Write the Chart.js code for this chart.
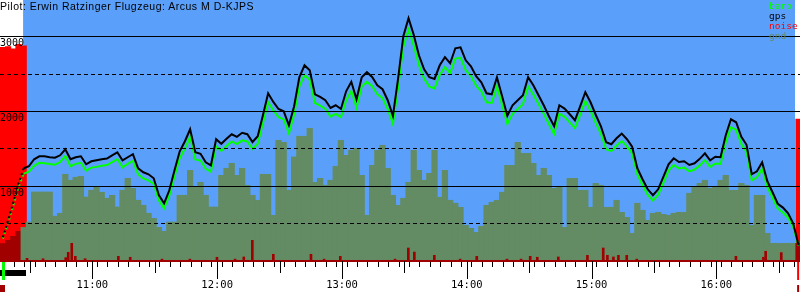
<!DOCTYPE html>
<html>
<head>
<meta charset="utf-8">
<title>Barogramm D-KJPS</title>
<script src="https://cdn.jsdelivr.net/npm/chart.js@4"></script>
<style>
    html, body { margin: 0; padding: 0; background: #fff; }
    #wrap { position: relative; width: 800px; height: 300px; }
    #title {
        position: absolute; left: 0; top: 0;
        font: 10.5px "Liberation Sans", Arial, sans-serif; line-height: 12px;
        letter-spacing: 0.5px;
        color: #000; white-space: nowrap; pointer-events: none;
    }
    #legend {
        position: absolute; left: 769px; top: 1px;
        font: 9.5px "DejaVu Sans Mono", monospace; line-height: 10px;
        pointer-events: none;
    }
</style>
</head>
<body>
<div id="wrap">
    <canvas id="baro" width="800" height="300"></canvas>
    <div id="title">Pilot: Erwin Ratzinger Flugzeug: Arcus M D-KJPS</div>
    <div id="legend">
        <div style="color:#00ff00">baro</div>
        <div style="color:#000000">gps</div>
        <div style="color:#ff0000">noise</div>
        <div style="color:#648c64">gnd</div>
    </div>
</div>
<script>
/* ======================
   DATA (minutes since midnight, metres)
   ====================== */

// one fix every 2.5 min, first fix 10:17
const FIRST_FIX = 617;
const FIX_STEP = 2.5;

const gps = [
    317, 545, 786, 1040, 1241, 1268, 1362, 1402, 1402, 1389,
    1382, 1415, 1496, 1362, 1389, 1402, 1295, 1335, 1348, 1362,
    1371, 1415, 1455, 1348, 1389, 1429, 1241, 1188, 1161, 1107,
    880, 773, 947, 1214, 1469, 1603, 1763, 1455, 1435, 1322,
    1281, 1630, 1569, 1636, 1697, 1663, 1717, 1697, 1593, 1670,
    1951, 2245, 2129, 2035, 2004, 1817, 2071, 2460, 2620, 2553,
    2232, 2196, 2152, 2049, 2085, 2035, 2272, 2399, 2165, 2460,
    2527, 2464, 2353, 2299, 2152, 1944, 2446, 3009, 3250, 3029,
    2754, 2567, 2460, 2437, 2620, 2728, 2647, 2848, 2861, 2687,
    2607, 2473, 2393, 2245, 2232, 2460, 2205, 1944, 2085, 2152,
    2219, 2460, 2353, 2219, 2085, 1938, 1804, 2085, 2041, 1964,
    1884, 2071, 2259, 2125, 1958, 1804, 1589, 1563, 1643, 1706,
    1630, 1529, 1241, 1094, 960, 880, 960, 1125, 1295, 1375,
    1326, 1335, 1285, 1308, 1367, 1442, 1348, 1395, 1389, 1683,
    1897, 1857, 1663, 1556, 1161, 1201, 1322, 1067, 920, 766,
    715, 639, 498, 210
];

const baro = [
    300, 510, 740, 985, 1170, 1195, 1275, 1315, 1310, 1300,
    1290, 1325, 1405, 1270, 1300, 1315, 1210, 1250, 1260, 1275,
    1285, 1325, 1365, 1255, 1300, 1340, 1160, 1105, 1080, 1030,
    810, 705, 875, 1130, 1375, 1505, 1660, 1360, 1345, 1235,
    1195, 1535, 1475, 1540, 1600, 1565, 1615, 1600, 1500, 1570,
    1845, 2125, 2015, 1925, 1895, 1710, 1960, 2335, 2490, 2425,
    2115, 2080, 2035, 1935, 1970, 1925, 2150, 2275, 2050, 2335,
    2400, 2340, 2230, 2180, 2035, 1835, 2320, 2865, 3095, 2885,
    2620, 2440, 2335, 2310, 2490, 2595, 2515, 2710, 2720, 2555,
    2475, 2345, 2270, 2125, 2115, 2335, 2090, 1835, 1970, 2035,
    2100, 2335, 2230, 2100, 1970, 1830, 1700, 1970, 1930, 1855,
    1780, 1960, 2140, 2010, 1850, 1700, 1495, 1470, 1545, 1605,
    1535, 1440, 1160, 1015, 885, 810, 885, 1045, 1210, 1285,
    1240, 1250, 1200, 1225, 1280, 1350, 1260, 1305, 1300, 1585,
    1790, 1755, 1565, 1460, 1080, 1120, 1235, 990, 850, 700,
    650, 580, 450, 205
];

const gnd = [
    234, 277, 330, 398, 450, 522, 924, 924, 924, 924,
    600, 639, 1161, 1081, 1121, 1134, 857, 947, 991, 920,
    840, 880, 723, 947, 1107, 973, 813, 746, 639, 572,
    451, 398, 522, 522, 880, 880, 1214, 1000, 1054, 880,
    723, 723, 1147, 1241, 1308, 1147, 1241, 1014, 880, 813,
    1161, 1161, 612, 1616, 1589, 947, 1393, 1670, 1670, 1777,
    1054, 1107, 1014, 1081, 1268, 1616, 1415, 1482, 1509, 1147,
    612, 1281, 1482, 1549, 1241, 880, 746, 840, 1054, 1482,
    1214, 1081, 1174, 1482, 853, 1214, 813, 773, 719, 478,
    438, 384, 465, 746, 786, 813, 920, 1281, 1281, 1589,
    1442, 1442, 1308, 1147, 1241, 1147, 973, 987, 451, 1107,
    1107, 947, 947, 719, 1040, 1014, 719, 719, 813, 652,
    585, 371, 773, 679, 545, 639, 652, 625, 612, 639,
    652, 652, 907, 987, 1040, 1081, 973, 987, 1081, 1147,
    947, 947, 1040, 1014, 478, 880, 880, 371, 237, 237,
    237, 237, 237, 237
];

// engine noise, per fix (only the motor runs are non-zero)
const noise = [
    2860, 2870, 2840, 2900, 2880, 0, 0, 0, 0, 0,
    0, 0, 0, 0, 0, 0, 0, 0, 0, 0,
    0, 0, 0, 0, 0, 0, 0, 0, 0, 0,
    0, 0, 0, 0, 0, 0, 0, 0, 0, 0,
    0, 0, 0, 0, 0, 0, 0, 0, 0, 0,
    0, 0, 0, 0, 0, 0, 0, 0, 0, 0,
    0, 0, 0, 0, 0, 0, 0, 0, 0, 0,
    0, 0, 0, 0, 0, 0, 0, 0, 0, 0,
    0, 0, 0, 0, 0, 0, 0, 0, 0, 0,
    0, 0, 0, 0, 0, 0, 0, 0, 0, 0,
    0, 0, 0, 0, 0, 0, 0, 0, 0, 0,
    0, 0, 0, 0, 0, 0, 0, 0, 0, 0,
    0, 0, 0, 0, 0, 0, 0, 0, 0, 0,
    0, 0, 0, 0, 0, 0, 0, 0, 0, 0,
    0, 0, 0, 0, 0, 0, 0, 0, 0, 0,
    0, 0, 0, 1900
];

// short noise peaks during the flight
const peakTimes = [
    628.6, 636.3, 647.2, 648.4, 650.1, 651.8, 656.5, 672.5, 678.2, 693.5,
    706.9, 719.9, 728.6, 732.8, 736.9, 747.0, 765.1, 771.4, 779.2, 805.5,
    811.9, 814.8, 824.4, 836.8, 844.8, 859.3, 866.1, 870.5, 873.9, 884.0,
    898.0, 905.6, 907.6, 910.5, 912.9, 916.9, 921.7, 969.4, 982.6, 983.7,
    991.2
];
const peakValues = [
    36, 30, 45, 116, 237, 63, 30, 63, 50, 25,
    25, 50, 25, 54, 277, 90, 90, 25, 63, 25,
    174, 120, 76, 25, 63, 25, 25, 63, 50, 54,
    76, 174, 76, 54, 76, 76, 25, 63, 50, 130,
    112
];

// altitude grid lines
const solidLines = [1000, 2000, 3000];
const dashedLines = [500, 1500, 2500];
const Y_MAX = 3494;

// time axis and flight events
const X_MIN = 615.6;
const X_MAX = 1000.2;
const FLIGHT_START = 626.7;
const FLIGHT_END = 997.8;
const ENGINE_RUN = [615.6, 628.1];
const TAKEOFF = 617.3;
const LANDING = 999.3;

const SKY = '#5aa0fa';
const OLIVE = '#648c64';
const DARK_RED = '#a00000';

/* ======================
   HELPERS
   ====================== */

const fixTimes = gps.map((_, i) => FIRST_FIX + i * FIX_STEP);
const toPoints = (values) => values.map((v, i) => ({ x: fixTimes[i], y: v }));

const fmtTime = (m) => {
    const h = Math.floor(m / 60);
    const mm = Math.round(m % 60);
    return `${h}:${String(mm).padStart(2, '0')}`;
};

const onGround = (t) => t < FLIGHT_START || t > FLIGHT_END;

/* ======================
   PLUGINS
   ====================== */

const flightBackground = {
    id: 'flightBackground',
    beforeDraw(chart) {
        const { ctx, chartArea, scales: { x } } = chart;
        const left = x.getPixelForValue(FLIGHT_START);
        const right = x.getPixelForValue(FLIGHT_END);
        ctx.save();
        ctx.fillStyle = SKY;
        ctx.fillRect(left, chartArea.top, right - left, chartArea.bottom - chartArea.top);
        ctx.restore();
    }
};

const timeMarks = {
    id: 'timeMarks',
    afterDraw(chart) {
        const { ctx, scales: { x } } = chart;
        const base = x.top;
        ctx.save();
        ctx.strokeStyle = '#000';
        ctx.lineWidth = 1;
        // longer ticks on the half hour and hour
        x.ticks.forEach(t => {
            if (t.value % 30) return;
            const len = t.value % 60 ? 12 : 18;
            const px = Math.round(x.getPixelForValue(t.value)) + 0.5;
            ctx.beginPath();
            ctx.moveTo(px, base);
            ctx.lineTo(px, base + len);
            ctx.stroke();
        });

        // engine run, takeoff and landing markers
        const e0 = x.getPixelForValue(ENGINE_RUN[0]);
        const e1 = x.getPixelForValue(ENGINE_RUN[1]);
        ctx.fillStyle = '#000';
        ctx.fillRect(e0, base + 9, e1 - e0, 6);

        const tk = x.getPixelForValue(TAKEOFF);
        ctx.fillStyle = '#00ff00';
        ctx.fillRect(tk - 1.5, base + 1, 3, 18);
        ctx.fillStyle = DARK_RED;
        ctx.fillRect(e0, base + 24, 5, 7);

        const ld = x.getPixelForValue(LANDING);
        ctx.fillStyle = '#ff0000';
        ctx.fillRect(ld - 1, base + 1, 2, 18);
        ctx.fillStyle = DARK_RED;
        ctx.fillRect(ld - 1, base + 24, 2, 7);
        ctx.restore();
    }
};

/* ======================
   CHART
   ====================== */

const climbDash = (ctx) => (ctx.p1.parsed.x <= FLIGHT_START + 0.5 ? [2, 3] : undefined);
const useTicks = (values) => (scale) => { scale.ticks = values.map(v => ({ value: v })); };

new Chart(document.getElementById('baro'), {
    type: 'line',
    data: {
        datasets: [
            {
                label: 'gps',
                data: toPoints(gps),
                borderColor: '#000000',
                borderWidth: 2,
                pointRadius: 0,
                segment: { borderDash: climbDash },
                order: 0
            },
            {
                label: 'baro',
                data: toPoints(baro),
                borderColor: '#00ff00',
                borderWidth: 2,
                pointRadius: 0,
                segment: { borderDash: climbDash },
                order: 1
            },
            {
                type: 'bar',
                label: 'noise peaks',
                data: peakTimes.map((t, i) => ({ x: t, y: peakValues[i] })),
                backgroundColor: DARK_RED,
                barThickness: 2,
                grouped: false,
                order: 2
            },
            {
                type: 'bar',
                label: 'gnd',
                data: toPoints(gnd),
                backgroundColor: (ctx) => (ctx.raw && onGround(ctx.raw.x) ? DARK_RED : OLIVE),
                barThickness: 5.6,
                grouped: false,
                order: 3
            },
            {
                type: 'bar',
                label: 'noise',
                data: toPoints(noise),
                backgroundColor: '#ff0000',
                barThickness: 5.6,
                grouped: false,
                order: 4
            }
        ]
    },
    options: {
        responsive: false,
        animation: false,
        layout: { padding: 0, autoPadding: false },
        plugins: {
            legend: { display: false },
            title: { display: false },
            tooltip: { enabled: false }
        },
        scales: {
            x: {
                type: 'linear',
                min: X_MIN,
                max: X_MAX,
                offset: false,
                afterFit: (s) => {
                    s.height = 39;
                    s.paddingLeft = 0;
                    s.paddingRight = 0;
                },
                border: { display: true, color: DARK_RED, width: 2, z: 1 },
                grid: {
                    display: true,
                    drawOnChartArea: false,
                    drawTicks: true,
                    tickLength: 6,
                    tickColor: '#000',
                    z: 1
                },
                ticks: {
                    stepSize: 5,
                    maxTicksLimit: 200,
                    includeBounds: false,
                    autoSkip: false,
                    maxRotation: 0,
                    padding: 12,
                    color: '#000',
                    font: { family: 'DejaVu Sans Mono', size: 10.5 },
                    callback: (v) => (v % 60 ? '' : fmtTime(v))
                }
            },
            // solid lines every 1000 m, with labels
            y: {
                type: 'linear',
                position: 'left',
                min: 0,
                max: Y_MAX,
                afterBuildTicks: useTicks(solidLines),
                afterFit: (s) => {
                    s.width = 0;
                    s.paddingTop = 0;
                    s.paddingBottom = 0;
                },
                border: { display: false },
                grid: { drawTicks: false, lineWidth: 1, color: '#000', z: 1 },
                ticks: {
                    autoSkip: false,
                    mirror: true,
                    padding: 0,
                    labelOffset: 7,
                    z: 2,
                    color: '#000',
                    font: { family: 'DejaVu Sans Mono', size: 10 },
                    callback: (v) => String(v)
                }
            },
            // dashed lines in between
            yHalf: {
                type: 'linear',
                position: 'left',
                min: 0,
                max: Y_MAX,
                afterBuildTicks: useTicks(dashedLines),
                afterFit: (s) => {
                    s.width = 0;
                    s.paddingTop = 0;
                    s.paddingBottom = 0;
                },
                border: { display: false, dash: [4, 3] },
                grid: { drawTicks: false, lineWidth: 1, color: '#000', z: 1 },
                ticks: { display: false }
            }
        }
    },
    plugins: [flightBackground, timeMarks]
});
</script>
</body>
</html>
